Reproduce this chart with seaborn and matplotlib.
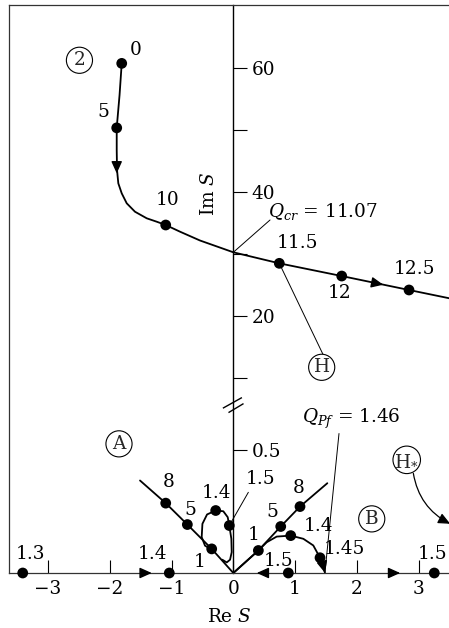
import numpy as np
import pandas as pd
import matplotlib
matplotlib.use("Agg")
import matplotlib.pyplot as plt
from matplotlib.path import Path
import seaborn as sns

# ---------------- data ----------------
# upper branch (2): eigenvalue path Re S / Im S while Q grows from 0 to 12.5+
branch2_re = [-1.806, -1.841, -1.887, -1.887, -1.882, -1.861, -1.806, -1.725, -1.591,
              -1.401, -1.239, -1.094, -0.862, -0.539, 0.0, 0.744, 1.754, 2.843, 3.55]
branch2_im = [60.7, 55.6, 50.3, 46.7, 43.5, 41.35, 39.74, 38.13, 36.77,
              35.71, 35.16, 34.63, 33.55, 32.13, 30.23, 28.45, 26.40, 24.15, 22.7]
branch2_q = ["0", "5", "10", "11.5", "12", "12.5"]
branch2_q_re = [-1.806, -1.887, -1.094, 0.744, 1.754, 2.843]
branch2_q_im = [60.7, 50.3, 34.63, 28.45, 26.40, 24.15]

# branch A (left ray into the origin)
branchA_re = [-1.510, -1.094, -0.744, -0.350, 0.0]
branchA_im = [0.376, 0.284, 0.197, 0.098, 0.0]
branchA_q = ["8", "5", "1"]
branchA_q_re = [-1.094, -0.744, -0.350]
branchA_q_im = [0.284, 0.197, 0.098]

# loop attached to branch A
loop_re = [-0.361, -0.458, -0.512, -0.500, -0.425, -0.285, -0.162, -0.091, -0.065,
           -0.032, -0.026, -0.053, -0.107, -0.178]
loop_im = [0.097, 0.111, 0.146, 0.200, 0.238, 0.254, 0.251, 0.227, 0.193,
           0.139, 0.085, 0.054, 0.043, 0.054]
loop_q = ["1.4", "1.5"]
loop_q_re = [-0.285, -0.065]
loop_q_im = [0.254, 0.193]

# branch B (right ray out of the origin)
branchB_re = [0.0, 0.405, 0.767, 1.079, 1.521]
branchB_im = [0.0, 0.0915, 0.189, 0.270, 0.365]
branchB_q = ["1", "5", "8"]
branchB_q_re = [0.405, 0.767, 1.079]
branchB_q_im = [0.0915, 0.189, 0.270]

# arc leaving branch B and landing on the real axis at Q_Pf
arc_re = [0.0, 0.405, 0.540, 0.702, 0.929, 1.133, 1.294, 1.403, 1.456, 1.484]
arc_im = [0.0, 0.0915, 0.125, 0.148, 0.152, 0.139, 0.112, 0.062, 0.024, 0.0]
arc_q = ["1.4", "1.45"]
arc_q_re = [0.929, 1.403]
arc_q_im = [0.152, 0.062]

# real eigenvalues on the Re S axis
real_q = ["1.3", "1.4", "1.5", "1.5"]
real_q_re = [-3.408, -1.036, 0.890, 3.252]

# direction arrows (tail -> tip) along the paths
arrow_tail = [(-1.887, 44.8), (2.27, 25.32), (-1.48, 0.0), (0.54, 0.0), (2.54, 0.0), (1.452, 0.03)]
arrow_tip = [(-1.887, 42.95), (2.427, 25.0), (-1.32, 0.0), (0.379, 0.0), (2.70, 0.0), (1.484, 0.0)]

q_cr = 11.07
q_pf = 1.46

x_ticks = [-3, -2, -1, 0, 1, 2, 3]
y_ticks = [0.5, 10, 20, 30, 40, 50, 60]
y_tick_labels = ["0.5", "", "20", "", "40", "", "60"]

# ---------------- broken Im S scale ----------------
K_LO, K_HI = 246.0, 6.2          # screen units per Im unit below / above the break
B_LO, B_HI = 168.0 / 246.0, 5.6  # Im values at either side of the break
EPS = 1e-3


def fwd(y):
    y = np.asarray(y, dtype=float)
    c0 = B_LO * K_LO
    c1 = c0 + (B_HI - B_LO) * EPS
    return np.where(y <= B_LO, y * K_LO,
                    np.where(y <= B_HI, c0 + (y - B_LO) * EPS, c1 + (y - B_HI) * K_HI))


def inv(v):
    v = np.asarray(v, dtype=float)
    c0 = B_LO * K_LO
    c1 = c0 + (B_HI - B_LO) * EPS
    return np.where(v <= c0, v / K_LO,
                    np.where(v <= c1, B_LO + (v - c0) / EPS, B_HI + (v - c1) / K_HI))


# ---------------- style ----------------
sns.set_theme(style="white")
plt.rcParams["font.family"] = ["DejaVu Serif"]
plt.rcParams["mathtext.fontset"] = "dejavuserif"
FS = 13.3
INK = "black"

fig = plt.figure(figsize=(4.49, 6.28), dpi=100)
ax = fig.add_axes([9 / 449, 55 / 628, 440 / 449, 568 / 628])
ax.set_yscale("function", functions=(fwd, inv))
ax.set_xlim(-3.63, 3.49)
ax.set_ylim(0, float(inv(568.0)))

LW = 1.3
MS = 60


def path(re, im):
    df = pd.DataFrame({"re": re, "im": im})
    sns.lineplot(data=df, x="re", y="im", sort=False, estimator=None,
                 color=INK, lw=LW, ax=ax, zorder=3)


def dots(re, im):
    df = pd.DataFrame({"re": re, "im": im})
    sns.scatterplot(data=df, x="re", y="im", color=INK, s=MS, edgecolor="none",
                    ax=ax, zorder=5, clip_on=False)


def labels(texts, re, im, offsets):
    for t, x, y, off in zip(texts, re, im, offsets):
        ax.annotate(t, xy=(x, y), xytext=off, textcoords="offset points",
                    ha="center", va="center", fontsize=FS, color=INK,
                    annotation_clip=False)


path(branch2_re, branch2_im)
path(branchA_re, branchA_im)
path(loop_re, loop_im)
path(branchB_re, branchB_im)
path(arc_re, arc_im)

dots(branch2_q_re, branch2_q_im)
dots(branchA_q_re, branchA_q_im)
dots(loop_q_re, loop_q_im)
dots(branchB_q_re, branchB_q_im)
dots(arc_q_re, arc_q_im)
dots(real_q_re, [0.0] * len(real_q_re))

labels(branch2_q, branch2_q_re, branch2_q_im,
       [(10.3, 9.6), (-9.6, 11.1), (1.4, 18), (13.2, 14.4), (-1.2, -12.5), (3.8, 14.9)])
labels(branchA_q, branchA_q_re, branchA_q_im, [(2.4, 15.1), (2.4, 10.6), (-8.4, -9.6)])
labels(loop_q[:1], loop_q_re[:1], loop_q_im[:1], [(0.7, 12.5)])
labels(branchB_q, branchB_q_re, branchB_q_im, [(-3.6, 10.8), (-5.8, 10.3), (-1.2, 13.5)])
labels(arc_q, arc_q_re, arc_q_im, [(19.9, 7.2), (17.3, 6.5)])
labels(real_q, real_q_re, [0.0] * len(real_q), [(5.3, 14), (-12.5, 14), (-7.2, 9), (-1.0, 14)])

# loop label "1.5" with a leader line
ax.plot([loop_q_re[1], 0.243], [loop_q_im[1], 0.328], color=INK, lw=0.7, zorder=2)
ax.text(0.432, 0.383, loop_q[1], ha="center", va="center", fontsize=FS, color=INK)

# direction arrows
for tail, tip in zip(arrow_tail, arrow_tip):
    ax.annotate("", xy=tip, xytext=tail,
                arrowprops=dict(arrowstyle="-|>,head_length=0.6,head_width=0.27",
                                mutation_scale=12, color=INK, lw=1.0,
                                shrinkA=0, shrinkB=0), zorder=4)

# critical values
ax.plot([0.594, 0.0], [35.44, 30.23], color=INK, lw=0.7)
ax.text(1.456, 36.77, r"$Q_{cr}$ = " + f"{q_cr:.2f}", ha="center", va="center",
        fontsize=FS, color=INK)
ax.plot([1.710, 1.484], [0.567, 0.006], color=INK, lw=0.7)
ax.text(1.916, 0.627, r"$Q_{Pf}$ = " + f"{q_pf:.2f}", ha="center", va="center",
        fontsize=FS, color=INK)

# circled markers
circ = dict(boxstyle="circle,pad=0.22", fc="white", ec=INK, lw=0.8)
ax.text(-2.49, 61.2, "2", ha="center", va="center", fontsize=FS, bbox=circ)
ax.text(-1.85, 0.525, "A", ha="center", va="center", fontsize=FS, bbox=circ)
ax.text(2.24, 0.220, "B", ha="center", va="center", fontsize=FS, bbox=circ)
ax.plot([branch2_q_re[3], 1.456], [branch2_q_im[3], 13.66], color=INK, lw=0.7, zorder=2)
ax.text(1.43, 11.68, "H", ha="center", va="center", fontsize=FS, bbox=circ)
ax.text(2.806, 0.460, r"H$_{*}$", ha="center", va="center", fontsize=FS,
        bbox=dict(boxstyle="circle,pad=0.08", fc="white", ec=INK, lw=0.8))
ax.annotate("", xy=(3.51, 0.200), xytext=(2.913, 0.405),
            arrowprops=dict(arrowstyle="-|>,head_length=0.6,head_width=0.27",
                            mutation_scale=12, connectionstyle="arc3,rad=0.25",
                            color=INK, lw=0.9, shrinkA=0, shrinkB=0),
            annotation_clip=False)

# axis break marks on the Im S axis
brk = Path([(-10.6, -2.7), (8.4, 7.9), (-5.0, -7.1), (10.0, 1.9)],
           [Path.MOVETO, Path.LINETO, Path.MOVETO, Path.LINETO])
ax.plot([0.0], [3.0], marker=brk, ms=15.3, mec=INK, mew=1.0, mfc="none",
        ls="none", zorder=6, clip_on=False)

# axes, ticks and labels
for side in ["left", "top", "bottom"]:
    ax.spines[side].set_color("#333333")
    ax.spines[side].set_linewidth(0.9)
ax.spines["right"].set_position(("data", 0.0))
ax.spines["right"].set_color(INK)
ax.spines["right"].set_linewidth(1.0)
ax.yaxis.set_ticks_position("right")
ax.set_yticks(y_ticks)
ax.set_yticklabels(y_tick_labels)
ax.yaxis.set_minor_locator(matplotlib.ticker.NullLocator())
ax.tick_params(axis="y", direction="out", length=10, width=0.8, pad=3,
               labelsize=FS, colors=INK, right=True, left=False)
ax.set_xticks(x_ticks)
ax.set_xticklabels([f"{t}".replace("-", "\u2212") for t in x_ticks])
ax.tick_params(axis="x", direction="in", length=9.5, width=0.8, pad=5,
               labelsize=FS, colors=INK, bottom=True)
ax.set_xlabel(r"Re $S$", fontsize=FS, labelpad=7, color=INK)
ax.set_ylabel("")
ax.text(-0.388, 39.74, r"Im $S$", rotation=90, ha="center", va="center",
        fontsize=FS, color=INK)

fig.savefig("out.png", dpi=100)
